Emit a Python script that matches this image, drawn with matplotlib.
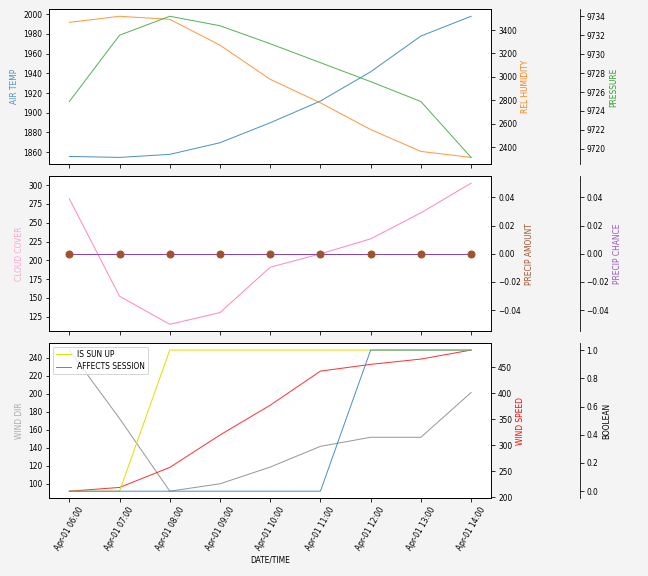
import pandas as pd
import matplotlib
matplotlib.use("Agg")
import matplotlib.pyplot as plt
import matplotlib.dates as mdates

# Hourly observations
times = pd.date_range("2024-04-01 06:00", periods=9, freq="h")
air_temp = [1855.6, 1854.6, 1857.7, 1869.5, 1889.8, 1911.9, 1941.6, 1977.9, 1998.0]
rel_humidity = [3465, 3517, 3491, 3271, 2980, 2780, 2552, 2366, 2315]
pressure = [9725.0, 9732.0, 9734.0, 9733.0, 9731.1, 9729.1, 9727.1, 9725.0, 9719.1]
cloud_cover = [281.9, 152.1, 114.8, 130.4, 190.8, 208.6, 228.6, 263.2, 302.7]
precip_amount = [0, 0, 0, 0, 0, 0, 0, 0, 0]
precip_chance = [0, 0, 0, 0, 0, 0, 0, 0, 0]
wind_dir = [248.6, 172.5, 91.8, 100.0, 118.6, 141.6, 151.7, 151.7, 201.4]
wind_speed = [211.6, 218.8, 257.4, 319.9, 377.3, 443.0, 456.0, 466.2, 483.6]
is_sun_up = [0, 0, 1, 1, 1, 1, 1, 1, 1]
affects_session = [0, 0, 0, 0, 0, 0, 1, 1, 1]

plt.rcParams['font.size'] = 7.5

fig, axes = plt.subplots(3, 1, figsize=(9, 8), dpi=72, sharex=True,
                         facecolor='#f4f4f4')
fig.subplots_adjust(left=0.076, right=0.758, top=0.984, bottom=0.135, hspace=0.075)

lw = 1
a = 0.8


def add_axis(host, label, color, offset=None):
    ax = host.twinx()
    if offset is not None:
        ax.spines['right'].set_position(('axes', offset))
    ax.set_ylabel(label, color=color)
    return ax


# Panel 1: temperature, humidity, pressure
ax1 = axes[0]
ax1.plot(times, air_temp, color='tab:blue', lw=lw, alpha=a)
ax1.set_ylabel('AIR TEMP', color='tab:blue', alpha=a)
ax1b = add_axis(ax1, 'REL HUMIDITY', 'tab:orange')
ax1b.plot(times, rel_humidity, color='tab:orange', lw=lw, alpha=a)
ax1c = add_axis(ax1, 'PRESSURE', 'tab:green', 1.2)
ax1c.plot(times, pressure, color='tab:green', lw=lw, alpha=a)

# Panel 2: clouds and precipitation
ax2 = axes[1]
ax2.plot(times, cloud_cover, color='hotpink', lw=lw, alpha=a)
ax2.set_ylabel('CLOUD COVER', color='#f7a6d0')
ax2b = add_axis(ax2, 'PRECIP AMOUNT', 'sienna')
ax2b.plot(times, precip_amount, color='sienna', ls='none', marker='o', markersize=7)
ax2c = add_axis(ax2, 'PRECIP CHANCE', '#9b59b6', 1.2)
ax2c.plot(times, precip_chance, color='#8e44ad', lw=lw)
ax2b.set_zorder(ax2c.get_zorder() + 1)

# Panel 3: wind and flags
ax3 = axes[2]
ax3.plot(times, wind_dir, color='tab:gray', lw=lw, alpha=a)
ax3.set_ylabel('WIND DIR', color='#aaaaaa')
ax3b = add_axis(ax3, 'WIND SPEED', 'red')
ax3b.plot(times, wind_speed, color='red', lw=lw, alpha=a)
ax3c = add_axis(ax3, 'BOOLEAN', 'black', 1.2)
ax3c.plot(times, is_sun_up, color='#e0e000', lw=lw, label='IS SUN UP')
ax3c.plot(times, affects_session, color='tab:blue', lw=lw, alpha=a, label='AFFECTS SESSION')
ax3c.legend(loc='upper left')

ax3.xaxis.set_major_locator(mdates.HourLocator())
ax3.xaxis.set_major_formatter(mdates.DateFormatter('%b-%d %H:%M'))
for lab in ax3.get_xticklabels():
    lab.set_rotation(60)
    lab.set_ha('center')
ax3.set_xlabel('DATE/TIME')

fig.savefig('out.png', dpi=72, facecolor=fig.get_facecolor())
